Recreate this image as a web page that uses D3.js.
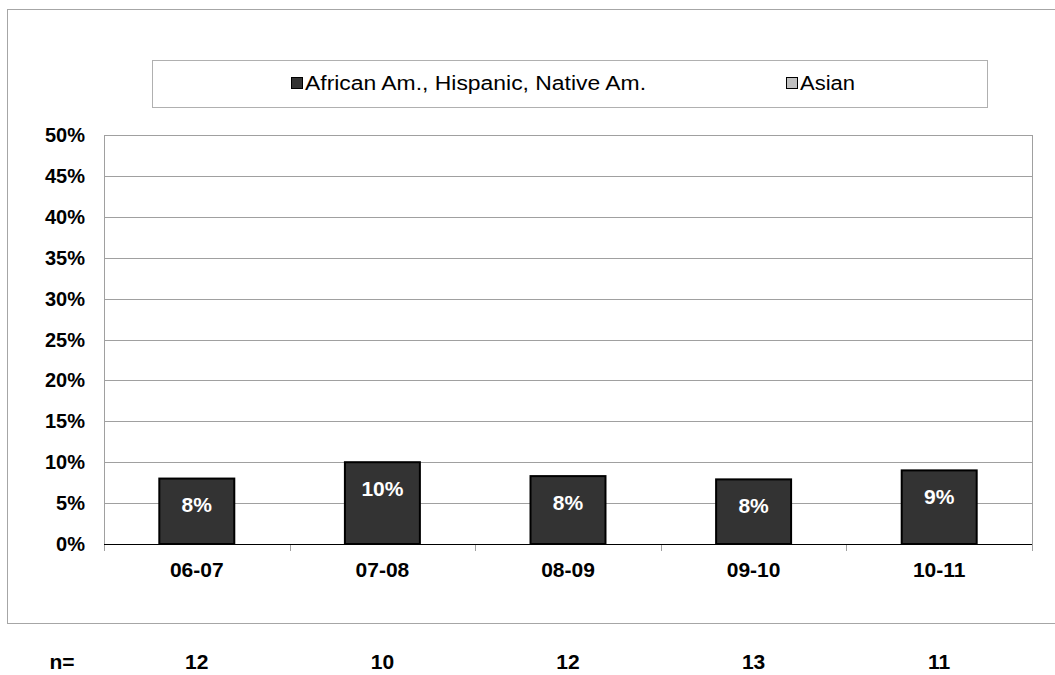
<!DOCTYPE html>
<html>
<head>
<meta charset="utf-8">
<script src="https://cdn.jsdelivr.net/npm/d3@7"></script>
<style>
    body { margin: 0; background: #fff; }
    svg { display: block; font-family: "Liberation Sans", Arial, sans-serif; }
</style>
</head>
<body>
<svg width="1055" height="675"></svg>
<script>
// chart data
const years = ["06-07", "07-08", "08-09", "09-10", "10-11"];
const minorityPct = [8.0, 10.0, 8.3, 7.9, 9.0];
const nCounts = [12, 10, 12, 13, 11];
const seriesNames = ["African Am., Hispanic, Native Am.", "Asian"];
const seriesColors = ["#333333", "#c0c0c0"];
const yTicks = [0, 5, 10, 15, 20, 25, 30, 35, 40, 45, 50];

let svg = d3.select("svg");

let plot = {left: 104, right: 1032, top: 135, bottom: 544};
let fontSize = 20;
let bigFont = 21;

// outer frame (right edge runs off the page)
svg.append("rect")
    .attr("x", 7.5).attr("y", 9.5)
    .attr("width", 1100).attr("height", 614)
    .attr("fill", "none")
    .attr("stroke", "#a6a6a6");

// legend
let legend = svg.append("g").attr("class", "legend");
legend.append("rect")
    .attr("x", 152.5).attr("y", 60.5)
    .attr("width", 835).attr("height", 47)
    .attr("fill", "#fff")
    .attr("stroke", "#b0b0b0");
let legendX = [291, 786];
let legendTextLen = [341, 55]; // text in the reference is a bit stretched
seriesNames.forEach((name, i) => {
    legend.append("rect")
        .attr("x", legendX[i] + 0.5).attr("y", 77.5)
        .attr("width", 11).attr("height", 11)
        .attr("fill", seriesColors[i])
        .attr("stroke", "#000");
    legend.append("text")
        .attr("x", legendX[i] + 14).attr("y", 83)
        .attr("dy", "0.35em")
        .attr("font-size", fontSize)
        .attr("textLength", legendTextLen[i])
        .attr("lengthAdjust", "spacingAndGlyphs")
        .text(name);
});

let x = d3.scaleBand()
    .domain(years)
    .range([plot.left, plot.right])
    .paddingInner(0.596)
    .paddingOuter(0.298);

let y = d3.scaleLinear()
    .domain([0, 50])
    .range([plot.bottom, plot.top]);

// gridlines
svg.append("g")
    .selectAll("line")
    .data(yTicks.filter(t => t > 0))
    .enter().append("line")
    .attr("x1", plot.left).attr("x2", plot.right)
    .attr("y1", d => Math.round(y(d)) + 0.5)
    .attr("y2", d => Math.round(y(d)) + 0.5)
    .attr("stroke", "#a0a0a0");

// plot side borders
svg.append("line")
    .attr("x1", plot.left + 0.5).attr("x2", plot.left + 0.5)
    .attr("y1", plot.top).attr("y2", plot.bottom + 7)
    .attr("stroke", "#a0a0a0");
svg.append("line")
    .attr("x1", plot.right + 0.5).attr("x2", plot.right + 0.5)
    .attr("y1", plot.top).attr("y2", plot.bottom + 7)
    .attr("stroke", "#a0a0a0");

// category tick marks
let step = x.step();
svg.append("g")
    .selectAll("line")
    .data(years.slice(1))
    .enter().append("line")
    .attr("x1", (d) => Math.round(x(d) - x.paddingOuter() * step) + 0.5)
    .attr("x2", (d) => Math.round(x(d) - x.paddingOuter() * step) + 0.5)
    .attr("y1", plot.bottom).attr("y2", plot.bottom + 7)
    .attr("stroke", "#a0a0a0");

// y labels
svg.append("g")
    .selectAll("text")
    .data(yTicks)
    .enter().append("text")
    .attr("x", 85)
    .attr("y", d => y(d))
    .attr("dy", "0.35em")
    .attr("text-anchor", "end")
    .attr("font-size", fontSize)
    .attr("font-weight", "bold")
    .text(d => d + "%");

// bars
let bars = svg.append("g").attr("class", "bars");
bars.selectAll("rect")
    .data(minorityPct)
    .enter().append("rect")
    .attr("x", (d, i) => x(years[i]))
    .attr("y", d => y(d))
    .attr("width", x.bandwidth())
    .attr("height", d => y(0) - y(d))
    .attr("fill", seriesColors[0])
    .attr("stroke", "#000")
    .attr("stroke-width", 2);

bars.selectAll("text")
    .data(minorityPct)
    .enter().append("text")
    .attr("x", (d, i) => x(years[i]) + x.bandwidth() / 2)
    .attr("y", d => y(d) + 26.5)
    .attr("dy", "0.35em")
    .attr("text-anchor", "middle")
    .attr("font-size", bigFont)
    .attr("font-weight", "bold")
    .attr("fill", "#fff")
    .text(d => Math.round(d) + "%");

// x axis line
svg.append("line")
    .attr("x1", plot.left).attr("x2", plot.right)
    .attr("y1", plot.bottom + 0.5).attr("y2", plot.bottom + 0.5)
    .attr("stroke", "#000");

// category labels
svg.append("g")
    .selectAll("text")
    .data(years)
    .enter().append("text")
    .attr("x", d => x(d) + x.bandwidth() / 2)
    .attr("y", 570)
    .attr("dy", "0.35em")
    .attr("text-anchor", "middle")
    .attr("font-size", bigFont)
    .attr("font-weight", "bold")
    .text(d => d);

// n= row
svg.append("text")
    .attr("x", 62).attr("y", 662)
    .attr("dy", "0.35em")
    .attr("text-anchor", "middle")
    .attr("font-size", bigFont)
    .attr("font-weight", "bold")
    .text("n=");
svg.append("g")
    .selectAll("text")
    .data(nCounts)
    .enter().append("text")
    .attr("x", (d, i) => x(years[i]) + x.bandwidth() / 2)
    .attr("y", 662)
    .attr("dy", "0.35em")
    .attr("text-anchor", "middle")
    .attr("font-size", bigFont)
    .attr("font-weight", "bold")
    .text(d => d);
</script>
</body>
</html>
